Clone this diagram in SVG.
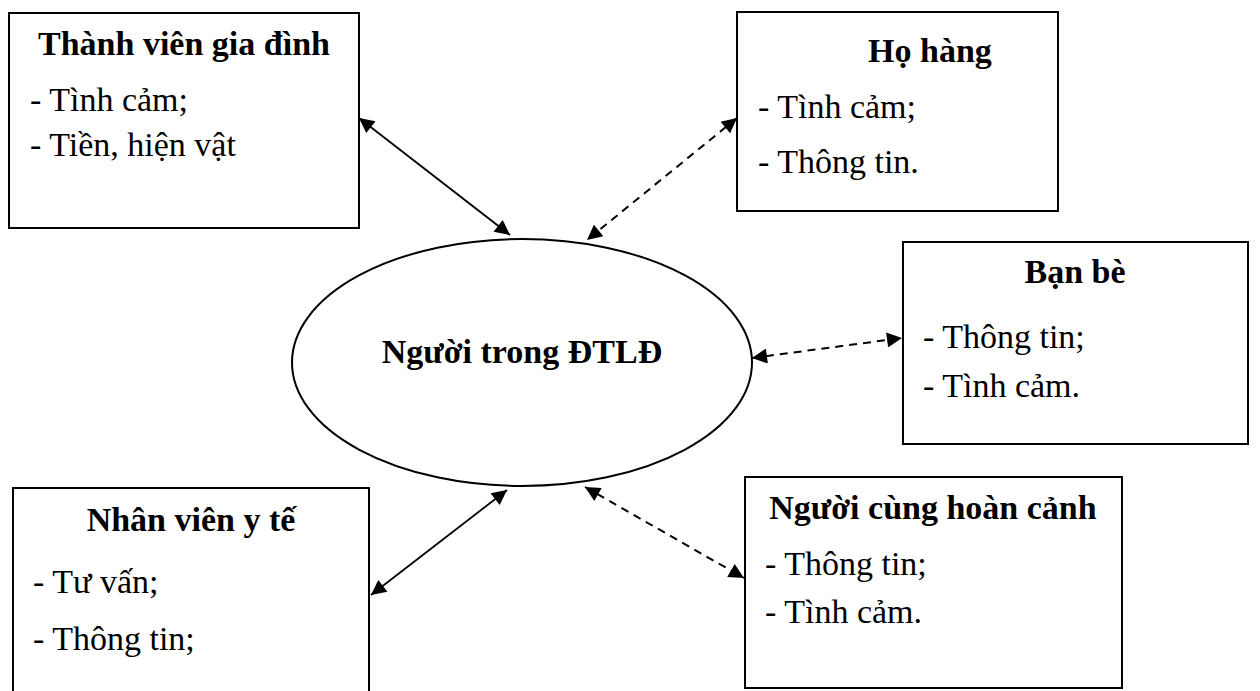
<svg xmlns="http://www.w3.org/2000/svg" width="1260" height="691" viewBox="0 0 1260 691">
  <defs>
    <style>
      .box { fill: #ffffff; stroke: #000000; stroke-width: 2; }
      .hub { fill: #ffffff; stroke: #000000; stroke-width: 2; }
      .title { font-family: "Liberation Serif", "Times New Roman", serif; font-size: 34px; font-weight: bold; fill: #000000; text-anchor: middle; }
      .item { font-family: "Liberation Serif", "Times New Roman", serif; font-size: 34px; fill: #000000; }
      .link { stroke: #000000; stroke-width: 1.8; fill: none; marker-start: url(#head); marker-end: url(#head); }
      .dashed { stroke-width: 2; stroke-dasharray: 8 6; }
    </style>
    <marker id="head" viewBox="0 0 10 10" refX="10" refY="5" markerUnits="userSpaceOnUse" markerWidth="18" markerHeight="15" orient="auto-start-reverse">
      <path d="M0,0 L10,5 L0,10 z" fill="#000000"/>
    </marker>
  </defs>

  <rect width="1260" height="691" fill="#ffffff"/>

  <!-- central node -->
  <g id="node-center">
    <ellipse class="hub" cx="522" cy="362.5" rx="230" ry="123.5"/>
    <text class="title" x="522" y="363">Người trong ĐTLĐ</text>
  </g>

  <g id="node-family">
    <rect class="box" x="9" y="13" width="350" height="215"/>
    <text class="title" x="184" y="55">Thành viên gia đình</text>
    <text class="item" x="30" y="111">- Tình cảm;</text>
    <text class="item" x="30" y="156">- Tiền, hiện vật</text>
  </g>

  <g id="node-relatives">
    <rect class="box" x="737" y="12" width="321" height="199"/>
    <text class="title" x="930" y="62">Họ hàng</text>
    <text class="item" x="758" y="118">- Tình cảm;</text>
    <text class="item" x="758" y="173">- Thông tin.</text>
  </g>

  <g id="node-friends">
    <rect class="box" x="903" y="242" width="345" height="202"/>
    <text class="title" x="1075" y="283">Bạn bè</text>
    <text class="item" x="923" y="348">- Thông tin;</text>
    <text class="item" x="923" y="397">- Tình cảm.</text>
  </g>

  <g id="node-medical">
    <rect class="box" x="13" y="488" width="356" height="220"/>
    <text class="title" x="191" y="531">Nhân viên y tế</text>
    <text class="item" x="33" y="593">- Tư vấn;</text>
    <text class="item" x="33" y="650">- Thông tin;</text>
  </g>

  <g id="node-peers">
    <rect class="box" x="745" y="477" width="377" height="211"/>
    <text class="title" x="933" y="519">Người cùng hoàn cảnh</text>
    <text class="item" x="765" y="575">- Thông tin;</text>
    <text class="item" x="765" y="623">- Tình cảm.</text>
  </g>

  <!-- connectors (double-headed) -->
  <g id="connectors">
    <line class="link" x1="359" y1="118" x2="510" y2="235"/>
    <line class="link dashed" x1="737" y1="118" x2="587" y2="240"/>
    <line class="link dashed" x1="752" y1="358" x2="902" y2="338"/>
    <line class="link" x1="507" y1="490" x2="371" y2="595"/>
    <line class="link dashed" x1="585" y1="487" x2="744" y2="578"/>
  </g>
</svg>
